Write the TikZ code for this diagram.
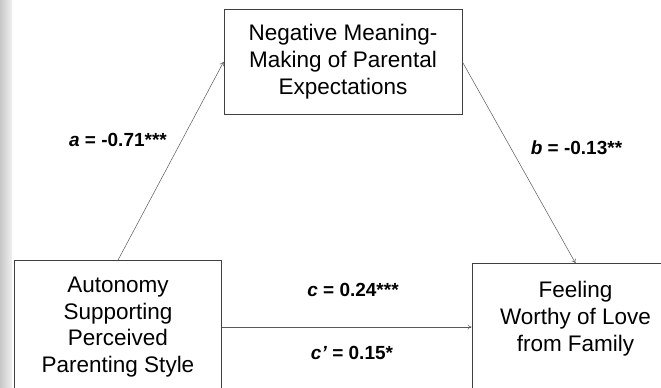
\documentclass[tikz,border=0pt]{standalone}
\usepackage{fontspec}
\setmainfont{Liberation Sans}
\usetikzlibrary{arrows.meta}
\tikzset{%
  box/.style = {
    shape=rectangle, draw=black!75, line width=0.7pt,
    align=center, inner sep=0pt,
    font=\fontsize{22.5}{26.8}\selectfont
  },
  link/.style = {draw=black!65, line width=0.5pt, -{To[length=4pt,width=5pt]}},
  coef/.style = {font=\fontsize{19}{22}\selectfont\bfseries}
}

\begin{document}
\begin{tikzpicture}[x=1pt,y=-1pt]
  \useasboundingbox (0,0) rectangle (661,388);
  \fill[left color=black!22, right color=black!6] (0,0) rectangle (12,388);
  % variables
  \node[box, minimum width=238pt, minimum height=105pt] (nmm) at (343,61.8)
    {Negative Meaning-\\Making of Parental\\Expectations};
  \node[box, minimum width=207pt, minimum height=133pt] (asps) at (118,327)
    {Autonomy\\Supporting\\Perceived\\Parenting Style};
  \node[box, minimum width=207pt, minimum height=133pt] (fwl) at (575.5,330)
    {Feeling\\Worthy of Love\\from Family\\ \mbox{}};
  % paths
  \draw[link] (asps.north) -- (nmm.west);
  \draw[link] (nmm.east) -- (fwl.north);
  \draw[link] (asps.east) -- (asps.east -| fwl.west);
  % coefficients
  \node[coef] (ca) at (118,140) {\textit{a} = -0.71***};
  \node[coef] (cb) at (576.5,148) {\textit{b} = -0.13**};
  \node[coef] (cc) at (353,290) {\textit{c} = 0.24***};
  \node[coef] (ccp) at (352,353) {\textit{c’} = 0.15*};
\end{tikzpicture}
\end{document}
